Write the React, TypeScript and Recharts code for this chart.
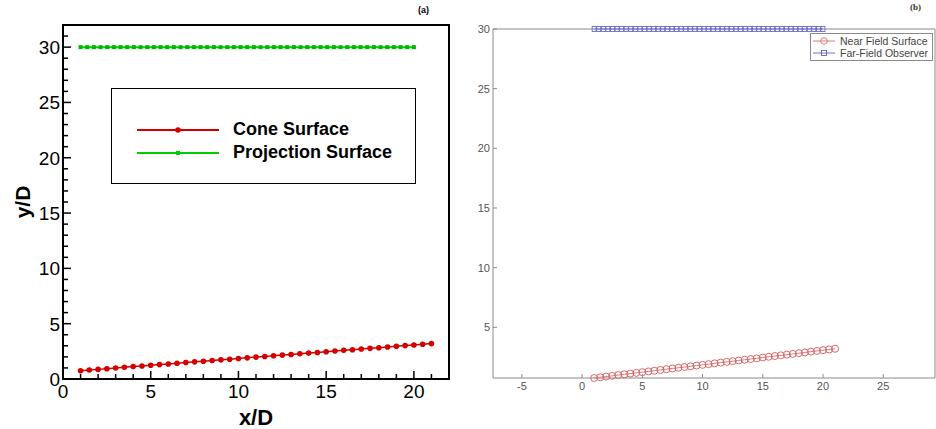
import { ComposedChart, Line, XAxis, YAxis, Legend, ReferenceArea } from 'recharts';

// surface points (x/D, y/D)
const coneX = [
  1, 1.5, 2, 2.5, 3, 3.5, 4, 4.5, 5, 5.5, 6, 6.5, 7, 7.5, 8, 8.5, 9, 9.5, 10, 10.5,
  11, 11.5, 12, 12.5, 13, 13.5, 14, 14.5, 15, 15.5, 16, 16.5, 17, 17.5, 18, 18.5, 19, 19.5, 20, 20.5, 21,
];
const coneY = [
  0.75, 0.81, 0.87, 0.93, 1.0, 1.06, 1.12, 1.18, 1.24, 1.3, 1.36, 1.42, 1.49, 1.55, 1.61, 1.67, 1.73, 1.79, 1.85, 1.91,
  1.98, 2.04, 2.1, 2.16, 2.22, 2.28, 2.34, 2.4, 2.47, 2.53, 2.59, 2.65, 2.71, 2.77, 2.83, 2.89, 2.96, 3.02, 3.08, 3.14, 3.2,
];
const projX = [
  1, 1.38, 1.76, 2.14, 2.52, 2.9, 3.28, 3.66, 4.04, 4.42, 4.8, 5.18, 5.56, 5.94, 6.32, 6.7, 7.08,
  7.46, 7.84, 8.22, 8.6, 8.98, 9.36, 9.74, 10.12, 10.5, 10.88, 11.26, 11.64, 12.02, 12.4, 12.78, 13.16,
  13.54, 13.92, 14.3, 14.68, 15.06, 15.44, 15.82, 16.2, 16.58, 16.96, 17.34, 17.72, 18.1, 18.48, 18.86,
  19.24, 19.62, 20,
];
const projY = [
  30, 30, 30, 30, 30, 30, 30, 30, 30, 30, 30, 30, 30, 30, 30, 30, 30,
  30, 30, 30, 30, 30, 30, 30, 30, 30, 30, 30, 30, 30, 30, 30, 30,
  30, 30, 30, 30, 30, 30, 30, 30, 30, 30, 30, 30, 30, 30, 30,
  30, 30, 30,
];

// panel (a) ticks
const aXTicks = [0, 1, 2, 3, 4, 5, 6, 7, 8, 9, 10, 11, 12, 13, 14, 15, 16, 17, 18, 19, 20, 21, 22];
const aYTicks = [0, 1, 2, 3, 4, 5, 6, 7, 8, 9, 10, 11, 12, 13, 14, 15, 16, 17, 18, 19, 20, 21, 22, 23, 24, 25, 26, 27, 28, 29, 30, 31, 32];
const aXMajor = [0, 5, 10, 15, 20];
const aYMajor = [0, 5, 10, 15, 20, 25, 30];

// panel (b) ticks
const bXTicks = [-5, 0, 5, 10, 15, 20, 25];
const bYTicks = [5, 10, 15, 20, 25, 30];

const coneData = coneX.map((x, i) => ({ x, y: coneY[i] }));
const projData = projX.map((x, i) => ({ x, y: projY[i] }));

const SANS = '"Liberation Sans", Arial, sans-serif';

// ---- panel (a) tick renderers (inward ticks, Tecplot style)
const BottomTickA = ({ x, y, payload }: any) => {
  const major = aXMajor.includes(payload.value);
  return (
    <g>
      <line x1={x} x2={x} y1={y} y2={y - (major ? 8 : 5)} stroke="#000" strokeWidth={1.5} />
      {major && (
        <text x={x} y={y + 19} textAnchor="middle" fontSize={19} fontFamily={SANS} fill="#000">
          {payload.value}
        </text>
      )}
    </g>
  );
};

const LeftTickA = ({ x, y, payload }: any) => {
  const major = aYMajor.includes(payload.value);
  return (
    <g>
      <line x1={x} x2={x + (major ? 8 : 5)} y1={y} y2={y} stroke="#000" strokeWidth={1.5} />
      {major && (
        <text x={x - 3} y={y} dy="0.36em" textAnchor="end" fontSize={19} fontFamily={SANS} fill="#000">
          {payload.value}
        </text>
      )}
    </g>
  );
};

// ---- panel (b) tick renderers (MATLAB style)
const GRAY = '#8a8a8a';

const BottomTickB = ({ x, y, payload }: any) => (
  <g>
    <line x1={x} x2={x} y1={y} y2={y - 4} stroke={GRAY} />
    <text x={x} y={y + 12} textAnchor="middle" fontSize={11} fontFamily={SANS} fill="#555">
      {payload.value}
    </text>
  </g>
);
const TopTickB = ({ x, y }: any) => <line x1={x} x2={x} y1={y} y2={y + 4} stroke={GRAY} />;
const LeftTickB = ({ x, y, payload }: any) => (
  <g>
    <line x1={x} x2={x + 4} y1={y} y2={y} stroke={GRAY} />
    <text x={x - 3} y={y} dy="0.36em" textAnchor="end" fontSize={11} fontFamily={SANS} fill="#555">
      {payload.value}
    </text>
  </g>
);
const RightTickB = ({ x, y }: any) => <line x1={x} x2={x - 4} y1={y} y2={y} stroke={GRAY} />;

// ---- legends
const LegendA = ({ payload }: any) => (
  <div
    style={{
      width: 305,
      height: 96,
      boxSizing: 'border-box',
      border: '1.5px solid #000',
      background: '#fff',
      paddingTop: 29,
      paddingLeft: 25,
    }}
  >
    {(payload || []).map((e: any) => (
      <div key={e.value} style={{ display: 'flex', alignItems: 'center', height: 23 }}>
        <svg width={82} height={10}>
          <line x1={0} x2={82} y1={5} y2={5} stroke={e.color} strokeWidth={2} />
          {e.type === 'circle' ? (
            <circle cx={41} cy={5} r={2.8} fill={e.color} />
          ) : (
            <rect x={39} y={3} width={4} height={4} fill={e.color} />
          )}
        </svg>
        <span style={{ marginLeft: 14, fontFamily: SANS, fontWeight: 'bold', fontSize: 18, color: '#000' }}>
          {e.value}
        </span>
      </div>
    ))}
  </div>
);

const LegendB = ({ payload }: any) => (
  <div
    style={{
      width: 123,
      height: 28,
      boxSizing: 'border-box',
      border: '1px solid #8a8a8a',
      background: '#fff',
      paddingTop: 1,
      paddingLeft: 2,
    }}
  >
    {(payload || []).map((e: any) => (
      <div key={e.value} style={{ display: 'flex', alignItems: 'center', height: 12 }}>
        <svg width={22} height={10}>
          <line x1={0} x2={22} y1={5} y2={5} stroke={e.color} strokeWidth={1} />
          {e.type === 'circle' ? (
            <circle cx={11} cy={5} r={3.3} fill="none" stroke={e.color} />
          ) : (
            <rect x={8.5} y={2.5} width={5} height={5} fill="none" stroke={e.color} />
          )}
        </svg>
        <span style={{ marginLeft: 5, fontFamily: SANS, fontSize: 10.5, color: '#444', whiteSpace: 'nowrap' }}>
          {e.value}
        </span>
      </div>
    ))}
  </div>
);

export default function App() {
  return (
    <div style={{ position: 'absolute', left: 0, top: 0, width: 936, height: 429, background: '#fff', overflow: 'hidden' }}>
      <div style={{ position: 'absolute', left: 0, top: 0 }}>
        <ComposedChart width={470} height={429} margin={{ top: 25, right: 21, bottom: 20, left: 23 }}>
          <XAxis
            type="number"
            dataKey="x"
            domain={[0, 22]}
            ticks={aXTicks}
            interval={0}
            height={30}
            tickSize={0}
            tickMargin={0}
            axisLine={false}
            tickLine={false}
            tick={BottomTickA}
            label={{ value: 'x/D', position: 'bottom', offset: 0, fontSize: 22, fontWeight: 'bold', fontFamily: SANS, fill: '#000' }}
          />
          <YAxis
            type="number"
            dataKey="y"
            domain={[0, 32]}
            ticks={aYTicks}
            interval={0}
            width={40}
            tickSize={0}
            tickMargin={0}
            axisLine={false}
            tickLine={false}
            tick={LeftTickA}
            label={{
              value: 'y/D',
              angle: -90,
              position: 'insideLeft',
              offset: 0,
              fontSize: 21,
              fontWeight: 'bold',
              fontFamily: SANS,
              fill: '#000',
              style: { textAnchor: 'middle' },
            }}
          />
          <ReferenceArea x1={0} x2={22} y1={0} y2={32} fill="none" stroke="#000" strokeWidth={2} fillOpacity={0} />
          <Line
            data={coneData}
            dataKey="y"
            name="Cone Surface"
            stroke="#d40000"
            strokeWidth={1.5}
            legendType="circle"
            isAnimationActive={false}
            dot={(p: any) => <circle key={`c${p.index}`} cx={p.cx} cy={p.cy} r={2.8} fill="#d40000" />}
          />
          <Line
            data={projData}
            dataKey="y"
            name="Projection Surface"
            stroke="#00cc00"
            strokeWidth={2}
            legendType="square"
            isAnimationActive={false}
            dot={(p: any) => <rect key={`p${p.index}`} x={p.cx - 2} y={p.cy - 2} width={4} height={4} fill="#00b800" />}
          />
          <Legend
            content={LegendA}
            itemSorter={null as any}
            layout="horizontal"
            verticalAlign="middle"
            align="center"
            width={305}
            height={96}
            wrapperStyle={{ left: 111, top: 88, width: 305, height: 96 }}
          />
        </ComposedChart>
        <div style={{ position: 'absolute', left: 418, top: 5, fontFamily: SANS, fontWeight: 'bold', fontSize: 9, color: '#000' }}>
          (a)
        </div>
      </div>

      <div style={{ position: 'absolute', left: 470, top: 0 }}>
        <ComposedChart width={466} height={429} margin={{ top: 28, right: 0, bottom: 21, left: 3 }}>
          <XAxis
            type="number"
            dataKey="x"
            domain={[-7.4, 29.3]}
            ticks={bXTicks}
            interval={0}
            height={30}
            tickSize={0}
            tickMargin={0}
            axisLine={false}
            tickLine={false}
            tick={BottomTickB}
          />
          <XAxis
            xAxisId="top"
            orientation="top"
            type="number"
            domain={[-7.4, 29.3]}
            ticks={bXTicks}
            interval={0}
            height={1}
            tickSize={0}
            tickMargin={0}
            axisLine={false}
            tickLine={false}
            tick={TopTickB}
          />
          <YAxis
            type="number"
            dataKey="y"
            domain={[0.75, 30]}
            ticks={bYTicks}
            interval={0}
            width={20}
            tickSize={0}
            tickMargin={0}
            axisLine={false}
            tickLine={false}
            tick={LeftTickB}
          />
          <YAxis
            yAxisId="right"
            orientation="right"
            type="number"
            domain={[0.75, 30]}
            ticks={bYTicks}
            interval={0}
            width={1}
            tickSize={0}
            tickMargin={0}
            axisLine={false}
            tickLine={false}
            tick={RightTickB}
          />
          <ReferenceArea x1={-7.4} x2={29.3} y1={0.75} y2={30} fill="none" stroke={GRAY} strokeWidth={1} fillOpacity={0} />
          <Line
            data={coneData}
            dataKey="y"
            name="Near Field Surface"
            stroke="#e07a7a"
            strokeWidth={1}
            legendType="circle"
            isAnimationActive={false}
            dot={(p: any) => <circle key={`n${p.index}`} cx={p.cx} cy={p.cy} r={3.5} fill="none" stroke="#d86868" strokeWidth={1} />}
          />
          <Line
            data={projData}
            dataKey="y"
            name="Far-Field Observer"
            stroke="#7272cc"
            strokeWidth={1}
            legendType="square"
            isAnimationActive={false}
            dot={(p: any) => (
              <rect key={`f${p.index}`} x={p.cx - 2} y={p.cy - 2.5} width={4} height={5} fill="none" stroke="#6a6ac8" strokeWidth={0.9} />
            )}
          />
          <Legend
            content={LegendB}
            itemSorter={null as any}
            layout="horizontal"
            verticalAlign="middle"
            align="center"
            width={123}
            height={28}
            wrapperStyle={{ left: 340, top: 33, width: 123, height: 28 }}
          />
        </ComposedChart>
        <div style={{ position: 'absolute', left: 440, top: 2, fontFamily: '"Liberation Serif", serif', fontWeight: 'bold', fontSize: 9, color: '#333' }}>
          (b)
        </div>
      </div>
    </div>
  );
}
